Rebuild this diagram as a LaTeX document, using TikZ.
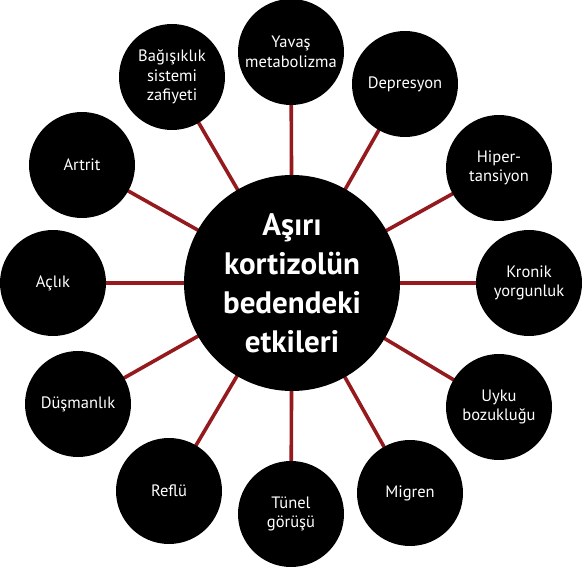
\documentclass[tikz,border=0pt]{standalone}
\usepackage{fontspec}
\setmainfont{PT Sans}
\definecolor{linkred}{HTML}{951A1E}
\begin{document}
\begin{tikzpicture}[x=1pt,y=-1pt,
  outer/.style={circle,fill=black,text=white,minimum size=106pt,inner sep=0pt,align=center,font=\fontsize{16.5}{19.5}\selectfont},
  hub/.style={circle,fill=black,text=white,minimum size=216pt,inner sep=0pt,align=center,font=\fontsize{31}{39}\selectfont\bfseries},
  link/.style={draw=linkred,line width=3.6pt}]
\useasboundingbox (0,0) rectangle (582,567);
\coordinate (c) at (292,283);
\coordinate (p1) at (291,52);
\coordinate (p2) at (405,84);
\coordinate (p3) at (499,168);
\coordinate (p4) at (529,283);
\coordinate (p5) at (499,407);
\coordinate (p6) at (410,493);
\coordinate (p7) at (291,514);
\coordinate (p8) at (169,491);
\coordinate (p9) at (78,404);
\coordinate (p10) at (53,283);
\coordinate (p11) at (82,165);
\coordinate (p12) at (172,77);
\foreach \i in {1,...,12} \draw[link] (c) -- (p\i);
\node[hub] (hub) at (c) {Aşırı\\kortizolün\\bedendeki\\etkileri};
\node[outer] (n1) at (p1) {Yavaş\\metabolizma};
\node[outer] (n2) at (p2) {Depresyon};
\node[outer] (n3) at (p3) {Hiper-\\tansiyon};
\node[outer] (n4) at (p4) {Kronik\\yorgunluk};
\node[outer] (n5) at (p5) {Uyku\\bozukluğu};
\node[outer] (n6) at (p6) {Migren};
\node[outer] (n7) at (p7) {Tünel\\görüşü};
\node[outer] (n8) at (p8) {Reflü};
\node[outer] (n9) at (p9) {Düşmanlık};
\node[outer] (n10) at (p10) {Açlık};
\node[outer] (n11) at (p11) {Artrit};
\node[outer] (n12) at (p12) {Bağışıklık\\sistemi\\zafiyeti};
\end{tikzpicture}
\end{document}
